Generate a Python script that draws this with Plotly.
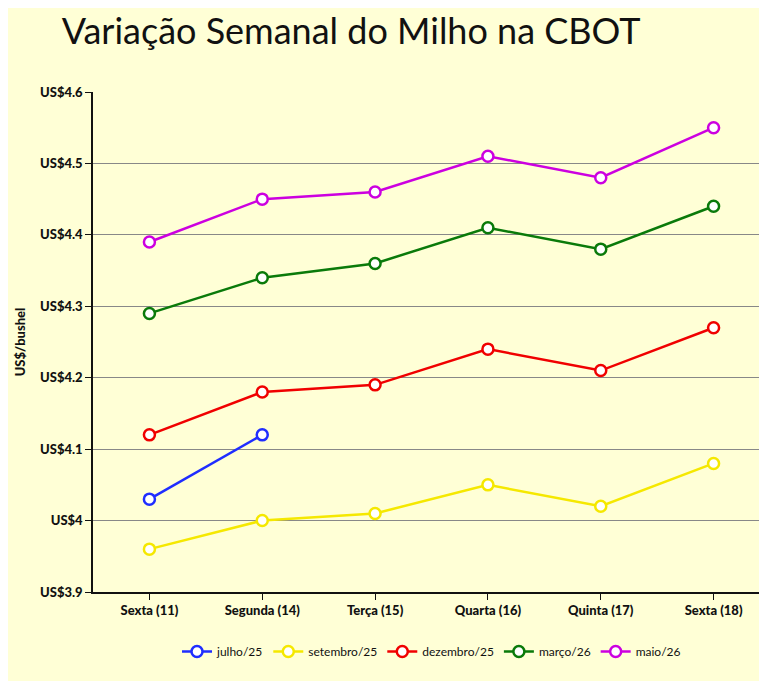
import plotly.graph_objects as go

categories = ["Sexta (11)", "Segunda (14)", "Terça (15)", "Quarta (16)", "Quinta (17)", "Sexta (18)"]
julho25 = [4.03, 4.12]
setembro25 = [3.96, 4.00, 4.01, 4.05, 4.02, 4.08]
dezembro25 = [4.12, 4.18, 4.19, 4.24, 4.21, 4.27]
marco26 = [4.29, 4.34, 4.36, 4.41, 4.38, 4.44]
maio26 = [4.39, 4.45, 4.46, 4.51, 4.48, 4.55]
tick_vals = [3.9, 4.0, 4.1, 4.2, 4.3, 4.4, 4.5, 4.6]
tick_text = ["US$3.9", "US$4", "US$4.1", "US$4.2", "US$4.3", "US$4.4", "US$4.5", "US$4.6"]

series = [("julho/25", julho25, "#1f2dff"), ("setembro/25", setembro25, "#f5e800"),
          ("dezembro/25", dezembro25, "#f00000"), ("março/26", marco26, "#0a7a0a"),
          ("maio/26", maio26, "#cc00e0")]

bg = "#ffffd6"
fig = go.Figure()
for name, vals, col in series:
    fig.add_trace(go.Scatter(x=categories[:len(vals)], y=vals, name=name, mode="lines+markers",
                             line=dict(color=col, width=2.5),
                             marker=dict(symbol="circle", size=11, color="white",
                                         line=dict(color=col, width=2.5))))
fig.update_layout(
    width=767, height=681, paper_bgcolor=bg, plot_bgcolor=bg,
    margin=dict(l=85, r=5, t=84, b=97),
    font=dict(family="Lato, Open Sans, sans-serif", color="#111", size=13),
    title=dict(text="Variação Semanal do Milho na CBOT", x=0.07, xanchor="left", y=0.965, yanchor="middle",
               font=dict(size=36, color="#111")),
    xaxis=dict(type="category", range=[-0.5, 5.5], showgrid=False, showline=True, linecolor="#111",
               linewidth=1.5, ticks="outside", ticklen=6, tickcolor="#111", automargin=False,
               tickfont=dict(size=13, family="Lato Black, Lato, sans-serif")),
    yaxis=dict(range=[3.9, 4.6], tickvals=tick_vals, ticktext=tick_text, showgrid=True, gridcolor="#888",
               gridwidth=1, showline=True, linecolor="#111", linewidth=1.5, ticks="outside", ticklen=6,
               tickcolor="#111", zeroline=False, automargin=False,
               tickfont=dict(size=13, family="Lato Black, Lato, sans-serif"),
               title=dict(text="US$/bushel", font=dict(size=13, family="Lato Black, Lato, sans-serif"), standoff=12)),
    legend=dict(orientation="h", x=0.5, xanchor="center", y=-0.09, yanchor="top", font=dict(size=12)),
)
fig.write_html("out.html")
